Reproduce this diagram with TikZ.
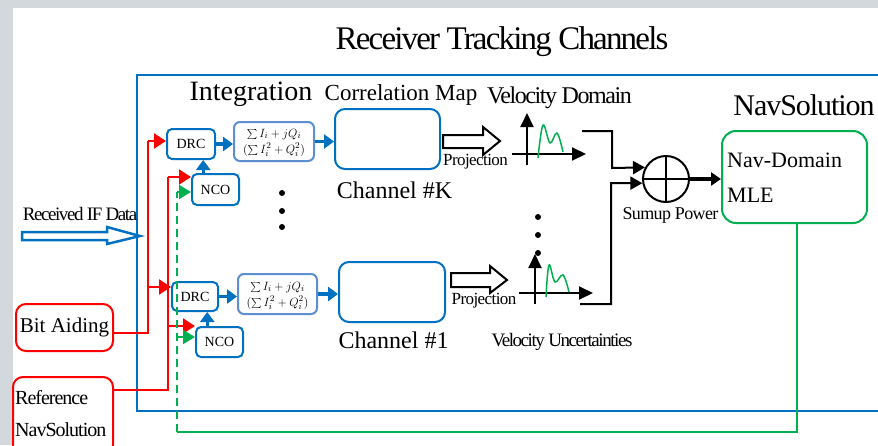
\documentclass[tikz,border=0pt]{standalone}
\usepackage{fontspec}
\setmainfont{Liberation Serif}
\newfontfamily\condT[LetterSpace=-5.5]{Liberation Serif}
\newfontfamily\condS[LetterSpace=-3.5]{Liberation Serif}
\newfontfamily\condV[LetterSpace=-6]{Liberation Serif}
\newfontfamily\condW[LetterSpace=-7.5]{Liberation Serif}
\newfontfamily\condR[LetterSpace=-5]{Liberation Serif}
\usetikzlibrary{arrows.meta,calc}
\definecolor{mblue}{HTML}{0070C0}
\definecolor{lblue}{HTML}{5B8FD0}
\definecolor{mgreen}{HTML}{00B050}
\definecolor{mred}{HTML}{FF0000}
\definecolor{bggrey}{HTML}{D3D8DC}
\tikzset{
  bbox/.style={draw=mblue, line width=2pt, rounded corners=5pt, fill=white, inner sep=0pt, font=\fontsize{14}{16}\selectfont},
  sbox/.style={draw=lblue, line width=2pt, rounded corners=6pt, fill=white, inner sep=0pt},
  sline/.style={inner sep=0pt, font=\fontsize{13}{15}\selectfont},
  chbox/.style={draw=mblue, line width=2pt, rounded corners=10pt, fill=white, inner sep=0pt},
  rbox/.style={draw=mred, line width=2pt, rounded corners=10pt, fill=white, inner sep=0pt},
  gbox/.style={draw=mgreen, line width=2pt, rounded corners=14pt, fill=white, inner sep=0pt},
  barrow/.style={mblue, line width=3.5pt, -{Triangle[length=10pt,width=14pt]}},
  rline/.style={mred, line width=2pt},
  rarrow/.style={mred, line width=2pt, -{Triangle[length=12pt,width=15pt]}},
  gline/.style={mgreen, line width=2.5pt},
  garrow/.style={mgreen, line width=2pt, -{Triangle[length=12pt,width=14pt]}},
  karrow/.style={black, line width=2pt, -{Triangle[length=12pt,width=13pt]}},
  kthick/.style={black, line width=4pt, -{Triangle[length=10pt,width=13pt]}},
  axisarrow/.style={black, line width=2pt, -{Triangle[length=14pt,width=13pt]}},
  hollow/.style={draw=black, line width=2pt, fill=white},
  lbl/.style={inner sep=0pt},
}
\begin{document}
\begin{tikzpicture}[x=1pt,y=-1pt]
\useasboundingbox (0,0) rectangle (878,445);
\clip (0,0) rectangle (878,445);
\fill[bggrey] (0,0) rectangle (878,445);
\fill[white] (13,8) rectangle (878,445);

% title
\node[lbl, font=\condT\fontsize{33}{35}\selectfont] (ttl) at (502,42) {Receiver Tracking Channels};

% main blue frame
\draw[mblue, line width=2pt] (137,75) rectangle (900,411);

\node[lbl, font=\fontsize{28}{30}\selectfont] (integ) at (251,94) {Integration};
\node[lbl, font=\fontsize{23}{25}\selectfont] (cmap) at (401,95) {Correlation Map};
\node[lbl, font=\condV\fontsize{24}{26}\selectfont] (vdom) at (559.5,98) {Velocity Domain};
\node[lbl, font=\condS\fontsize{30}{32}\selectfont] (navt) at (804,105) {NavSolution};

% channel K
\node[bbox, minimum width=48pt, minimum height=30pt] (drcK) at (191,144) {DRC};
\node[bbox, minimum width=47pt, minimum height=31pt] (ncoK) at (215.5,189.5) {NCO};
\node[sbox, minimum width=80pt, minimum height=39pt] (sumK) at (274,141.5) {};
\node[sline, anchor=base] (sumKa) at (274,137) {$\sum I_i + jQ_i$};
\node[sline, anchor=base] (sumKb) at (274,153) {$(\sum I_i^2+Q_i^2)$};
\node[chbox, minimum width=105pt, minimum height=60pt] (chK) at (387.5,139) {};
\node[lbl, font=\fontsize{24}{26}\selectfont] (chKt) at (394.5,190) {Channel \#K};

% channel 1
\node[bbox, minimum width=46pt, minimum height=29pt] (drc1) at (195,296.5) {DRC};
\node[bbox, minimum width=47pt, minimum height=30pt] (nco1) at (219.5,342) {NCO};
\node[sbox, minimum width=79pt, minimum height=40pt] (sum1) at (277.5,294) {};
\node[sline, anchor=base] (sum1a) at (277.5,290) {$\sum I_i + jQ_i$};
\node[sline, anchor=base] (sum1b) at (277.5,306) {$(\sum I_i^2+Q_i^2)$};
\node[chbox, minimum width=106pt, minimum height=60pt] (ch1) at (392,292) {};
\node[lbl, font=\fontsize{24}{26}\selectfont] (ch1t) at (393.5,340) {Channel \#1};

% blue arrows
\draw[barrow] (drcK.east) -- (drcK.east -| sumK.west);
\draw[barrow] (sumK.east) -- (sumK.east -| chK.west);
\coordinate (ncoKup) at ($(ncoK.north west)!0.25!(ncoK.north east)$);
\draw[barrow] (ncoKup) -- (ncoKup |- drcK.south);
\draw[barrow] (drc1.east) -- (drc1.east -| sum1.west);
\draw[barrow] (sum1.east) -- (sum1.east -| ch1.west);
\coordinate (nco1up) at ($(nco1.north west)!0.25!(nco1.north east)$);
\draw[barrow] (nco1up) -- (nco1up |- drc1.south);

% dots
\foreach \yy in {193,211,227} \fill (282,\yy) circle (3pt);
\foreach \yy in {217,235,253} \fill (538,\yy) circle (3pt);

% left inputs
\node[rbox, minimum width=97pt, minimum height=47pt, font=\fontsize{21}{23}\selectfont] (bit) at (64.5,327.5) {Bit Aiding};
\node[rbox, minimum width=100pt, minimum height=78pt] (ref) at (63,416) {};
\node[lbl, anchor=west, font=\condR\fontsize{20}{22}\selectfont] (reft1) at (15,398) {Reference};
\node[lbl, anchor=west, font=\condR\fontsize{20}{22}\selectfont] (reft2) at (15,430) {NavSolution};

\node[lbl, font=\condW\fontsize{19}{21}\selectfont] (ift) at (80,214) {Received IF Data};
\coordinate (iftip) at (140,236);
\draw[mblue, line width=2.5pt, fill=white, line join=miter] (22,232) -- (107,232) -- (107,227) -- (iftip) -- (107,244) -- (107,240) -- (22,240) -- cycle;

% red connections
\coordinate (rb) at (148,141);
\draw[rline] ($(bit.east)+(0,5)$) -| (rb);
\draw[rarrow] (rb) -- (drcK.west |- rb);
\coordinate (rb1) at (148,287);
\draw[rarrow] (rb1) -- (drc1.west |- rb1);
\coordinate (rr) at (168,177);
\draw[rline] ($(ref.north east)+(0,14)$) -| (rr);
\draw[rarrow] (rr) -- (ncoK.west |- rr);
\coordinate (rr1) at (168,326);
\draw[rarrow] (rr1) -- (nco1.west |- rr1);

% green feedback
\node[gbox, minimum width=145pt, minimum height=92pt] (nav) at (794.5,177) {};
\node[lbl, anchor=west, font=\fontsize{22}{24}\selectfont] (navt1) at (727,160) {Nav-Domain};
\node[lbl, anchor=west, font=\fontsize{22}{24}\selectfont] (navt2) at (727,195) {MLE};
\coordinate (gc) at (177,432);
\draw[gline] ($(nav.south)+(2.5,0)$) |- (gc);
\coordinate (gt) at (177,192);
\draw[mgreen, line width=2pt, dash pattern=on 8pt off 5pt] (gc) -- (gt);
\draw[garrow] (gt) -- (ncoK.west |- gt);
\coordinate (g1) at (177,337);
\draw[garrow] (g1) -- (nco1.west |- g1);

% projections
\draw[hollow] (443,135) -- (483,135) -- (483,127) -- (500,141) -- (483,155) -- (483,148) -- (443,148) -- cycle;
\node[lbl, font=\condS\fontsize{17}{19}\selectfont] (projK) at (475.5,162) {Projection};
\draw[hollow] (451,273) -- (490,273) -- (490,266) -- (507,280) -- (490,293) -- (490,287) -- (451,287) -- cycle;
\node[lbl, font=\condS\fontsize{17}{19}\selectfont] (proj1) at (484,301) {Projection};

% plots
\draw[axisarrow] (527,165) -- (527,113);
\draw[axisarrow] (512,154) -- (586,154);
\draw[mgreen, line width=1.5pt] plot[smooth, tension=0.6] coordinates {(538,158) (543,125) (550,143) (557,133) (563,152)};
\draw[axisarrow] (535,304) -- (535,254);
\draw[axisarrow] (519,293) -- (593,293);
\draw[mgreen, line width=1.5pt] plot[smooth, tension=0.6] coordinates {(546,297) (549,265) (555,282) (563,275) (569,292)};

\node[lbl, font=\condW\fontsize{19}{21}\selectfont] (vunc) at (562,342) {Velocity Uncertainties};

% sum
\node[circle, draw, line width=2pt, minimum size=46pt, inner sep=0pt] (sumc) at (666,179) {};
\draw[line width=2pt] (sumc.north) -- (sumc.south);
\draw[line width=2pt] (sumc.west) -- (sumc.east);
\node[lbl, font=\condS\fontsize{18}{20}\selectfont] (sumt) at (670.5,215) {Sumup Power};
\coordinate (pK) at (582,131);
\coordinate (p1) at (580,304);
\draw[karrow] (pK) -| (612,168) -- (sumc.151);
\draw[karrow] (p1) -| (611,183) -- (sumc.190);
\draw[kthick] (sumc.east) -- (nav.west |- sumc.east);
\end{tikzpicture}
\end{document}
